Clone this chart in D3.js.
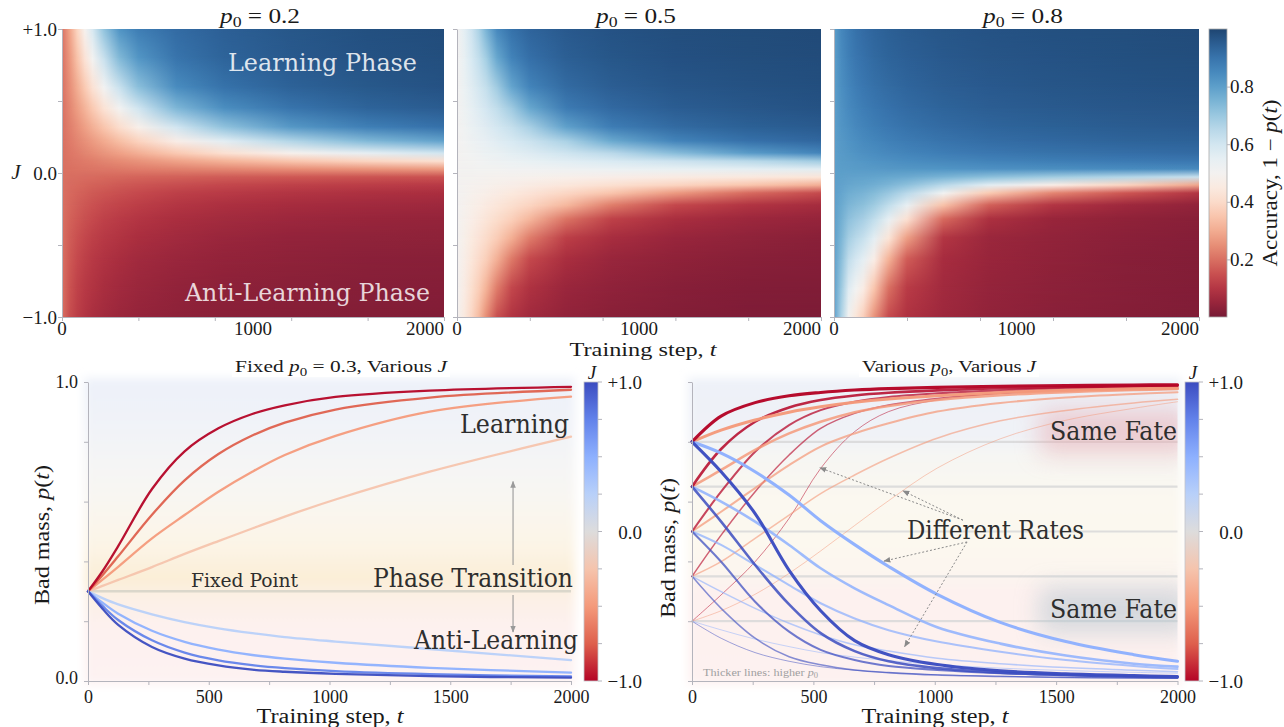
<!DOCTYPE html>
<html><head><meta charset="utf-8">
<script src="https://cdn.jsdelivr.net/npm/d3@7"></script>
<style>html,body{margin:0;padding:0;background:#fff;} svg{display:block;}</style>
</head><body>
<script>
// ====================== DATA ======================
// Heatmaps: accuracy value per (J row, t column)
const heatT = [0, 40, 80, 120, 160, 220, 300, 400, 600, 850, 1200, 1600, 2000];
const heatJ = [1, 0.8, 0.6, 0.45, 0.32, 0.22, 0.14, 0.08, 0.03, -0.03, -0.08, -0.14, -0.22, -0.32, -0.45, -0.6, -0.8, -1];
const heatP0 = ["0.2", "0.5", "0.8"];
const accP02 = [
 [.2,.286,.386,.491,.59,.714,.826,.88,.92,.945,.963,.977,.985],
 [.2,.267,.344,.426,.508,.62,.738,.82,.9,.935,.958,.972,.98],
 [.2,.249,.304,.362,.422,.51,.618,.724,.845,.905,.94,.96,.972],
 [.2,.236,.275,.316,.359,.424,.508,.603,.745,.84,.9,.935,.952],
 [.2,.225,.252,.279,.308,.351,.409,.479,.602,.716,.814,.874,.907],
 [.2,.217,.235,.253,.271,.299,.336,.382,.468,.561,.662,.74,.791],
 [.2,.211,.222,.233,.244,.26,.282,.308,.359,.418,.488,.553,.604],
 [.2,.206,.212,.218,.224,.233,.244,.258,.285,.315,.352,.387,.418],
 [.2,.202,.205,.207,.209,.212,.216,.221,.229,.239,.251,.262,.272],
 [.2,.198,.196,.194,.192,.189,.186,.182,.176,.169,.162,.156,.152],
 [.2,.194,.189,.184,.179,.173,.166,.158,.146,.134,.123,.114,.108],
 [.2,.19,.181,.173,.166,.157,.147,.137,.121,.108,.096,.087,.08],
 [.2,.185,.172,.161,.152,.14,.128,.116,.099,.085,.074,.065,.06],
 [.2,.178,.162,.148,.137,.123,.11,.097,.08,.068,.057,.05,.045],
 [.2,.171,.15,.134,.121,.107,.093,.08,.065,.053,.044,.038,.035],
 [.2,.163,.138,.121,.107,.092,.079,.067,.053,.043,.035,.03,.027],
 [.2,.154,.125,.106,.093,.078,.065,.055,.042,.034,.028,.024,.021],
 [.2,.145,.115,.095,.082,.068,.056,.046,.035,.028,.023,.019,.017]
];
const accP05 = [
 [.5,.556,.609,.673,.752,.852,.906,.934,.958,.972,.981,.986,.989],
 [.5,.544,.588,.632,.686,.781,.866,.911,.946,.963,.975,.982,.985],
 [.5,.533,.566,.598,.629,.692,.784,.864,.921,.948,.964,.973,.979],
 [.5,.525,.55,.574,.597,.634,.694,.781,.884,.924,.949,.962,.972],
 [.5,.518,.535,.553,.57,.595,.627,.679,.794,.878,.921,.943,.954],
 [.5,.512,.524,.536,.548,.566,.588,.615,.675,.776,.864,.907,.928],
 [.5,.508,.516,.523,.531,.542,.557,.574,.608,.65,.729,.808,.861],
 [.5,.504,.509,.513,.517,.524,.532,.543,.562,.585,.615,.649,.692],
 [.5,.502,.503,.505,.507,.509,.512,.516,.523,.532,.544,.556,.567],
 [.5,.498,.497,.495,.493,.491,.488,.484,.477,.468,.456,.444,.433],
 [.5,.496,.491,.487,.483,.476,.468,.457,.438,.415,.385,.351,.308],
 [.5,.492,.484,.477,.469,.458,.443,.426,.392,.35,.271,.192,.139],
 [.5,.488,.476,.464,.452,.434,.412,.385,.325,.224,.136,.093,.072],
 [.5,.482,.465,.447,.43,.405,.373,.321,.206,.122,.079,.057,.046],
 [.5,.475,.45,.426,.403,.366,.306,.219,.116,.076,.051,.038,.028],
 [.5,.467,.434,.402,.371,.308,.216,.136,.079,.052,.036,.027,.021],
 [.5,.456,.412,.368,.314,.219,.134,.089,.054,.037,.025,.018,.015],
 [.5,.444,.391,.327,.248,.148,.094,.066,.042,.028,.019,.014,.011]
];
const accP08 = [
 [.8,.855,.885,.905,.918,.932,.944,.954,.965,.972,.977,.982,.987],
 [.8,.846,.875,.894,.907,.922,.935,.945,.958,.966,.972,.977,.982],
 [.8,.837,.862,.879,.893,.908,.921,.933,.947,.957,.965,.97,.974],
 [.8,.829,.85,.866,.879,.893,.907,.92,.935,.947,.956,.962,.966],
 [.8,.822,.838,.852,.863,.877,.89,.903,.92,.932,.943,.95,.955],
 [.8,.815,.828,.839,.848,.86,.872,.884,.901,.915,.926,.935,.94],
 [.8,.81,.819,.827,.834,.843,.853,.863,.879,.892,.904,.913,.92],
 [.8,.806,.811,.816,.821,.827,.834,.842,.854,.866,.877,.886,.892],
 [.8,.802,.804,.806,.808,.811,.814,.818,.824,.831,.838,.844,.848],
 [.8,.797,.793,.792,.79,.787,.781,.772,.75,.722,.691,.661,.621],
 [.8,.791,.782,.777,.773,.765,.747,.721,.651,.56,.465,.384,.29],
 [.8,.784,.767,.759,.752,.735,.702,.65,.516,.361,.237,.159,.096],
 [.8,.775,.747,.734,.722,.693,.636,.548,.345,.177,.095,.06,.04],
 [.8,.762,.72,.699,.681,.636,.546,.419,.191,.085,.05,.036,.027],
 [.8,.746,.683,.651,.624,.557,.431,.277,.095,.055,.04,.03,.022],
 [.8,.726,.637,.593,.555,.465,.312,.17,.075,.05,.036,.026,.019],
 [.8,.698,.573,.512,.461,.351,.2,.11,.065,.045,.032,.023,.017],
 [.8,.668,.507,.433,.374,.257,.14,.09,.06,.042,.03,.021,.015]
];
const heatXTicks = [0, 400, 800, 1200, 1600, 2000];
const heatXLabels = [0, 1000, 2000];
const heatYTicks = [-1, -0.5, 0, 0.5, 1];
const accTicks = [0.2, 0.4, 0.6, 0.8];

// Bottom-left: fixed p0 = 0.3, various J
const fixedP0 = 0.3;
const fixedT = [0, 60, 125, 265, 400, 540, 680, 815, 1025, 1415, 2000];
const fixedJ = [-0.25, -0.5, -0.75, -1, 0.25, 0.5, 0.75, 1];
const fixedP = [
 [.3,.318,.338,.381,.425,.468,.51,.55,.607,.70,.817],
 [.3,.339,.382,.477,.555,.633,.70,.756,.82,.901,.951],
 [.3,.354,.417,.556,.671,.759,.821,.864,.908,.948,.974],
 [.3,.367,.451,.642,.768,.845,.893,.922,.95,.971,.984],
 [.3,.277,.256,.223,.197,.176,.16,.147,.132,.107,.07],
 [.3,.262,.225,.168,.131,.105,.087,.075,.061,.044,.028],
 [.3,.251,.204,.136,.095,.069,.053,.043,.033,.023,.015],
 [.3,.242,.188,.114,.075,.052,.038,.031,.024,.016,.011]
];

// Bottom-right: various p0, various J
const variousT = [0, 120, 260, 400, 530, 670, 810, 1010, 1270, 1540, 1820, 2000];
const variousP0 = [0.2, 0.35, 0.5, 0.65, 0.8];
const variousJ = [-1, -0.5, 0.5, 1];
const variousP02 = [
 [.2,.288,.399,.544,.711,.834,.901,.94,.962,.974,.981,.984],
 [.2,.235,.29,.36,.435,.52,.603,.712,.81,.872,.912,.934],
 [.2,.171,.14,.115,.095,.08,.068,.055,.043,.035,.029,.026],
 [.2,.143,.095,.066,.048,.036,.028,.021,.016,.012,.01,.009]
];
const variousP035 = [
 [.35,.488,.633,.756,.845,.895,.923,.945,.962,.972,.979,.982],
 [.35,.399,.477,.555,.627,.689,.745,.812,.87,.905,.93,.942],
 [.35,.299,.243,.193,.154,.121,.10,.076,.058,.045,.036,.031],
 [.35,.243,.143,.081,.054,.037,.028,.02,.015,.012,.01,.009]
];
const variousP05 = [
 [.5,.633,.767,.856,.906,.934,.95,.962,.972,.979,.984,.986],
 [.5,.566,.645,.722,.784,.828,.862,.901,.93,.948,.96,.966],
 [.5,.455,.388,.321,.26,.209,.17,.132,.098,.07,.05,.04],
 [.5,.399,.265,.165,.104,.07,.05,.037,.026,.019,.014,.012]
];
const variousP065 = [
 [.65,.776,.867,.915,.94,.955,.964,.972,.979,.983,.986,.988],
 [.65,.706,.773,.828,.867,.899,.92,.94,.956,.966,.973,.977],
 [.65,.60,.533,.455,.377,.31,.254,.18,.125,.085,.058,.048],
 [.65,.533,.388,.256,.16,.10,.066,.043,.028,.02,.015,.013]
];
const variousP08 = [
 [.8,.886,.931,.954,.965,.973,.978,.982,.986,.988,.99,.991],
 [.8,.839,.873,.899,.917,.932,.943,.954,.965,.972,.977,.979],
 [.8,.762,.70,.622,.536,.456,.383,.29,.196,.132,.088,.066],
 [.8,.70,.56,.37,.235,.135,.088,.055,.034,.024,.018,.015]
];
const variousSeries = [variousP02, variousP035, variousP05, variousP065, variousP08];
const lineXTicks = [0, 250, 500, 750, 1000, 1250, 1500, 1750, 2000];
const lineYTicks = [0, 0.2, 0.4, 0.6, 0.8, 1];
const jBarTicks = [-1, -0.75, -0.5, -0.25, 0, 0.25, 0.5, 0.75, 1];
const jBarLabels = [1, 0, -1];

// ====================== DRAWING ======================
const W = 1284, H = 727;
const svg = d3.select('body').append('svg').attr('width', W).attr('height', H);
const defs = svg.append('defs');
const SERIF = "'Liberation Serif','DejaVu Serif',serif";
const SLAB = "'DejaVu Serif Condensed','DejaVu Serif',serif";
const INK = '#1a1a1a';
const AXC = '#b4b4bc';

const heatColor = v => d3.interpolateRgb('#ffffff', d3.interpolateRdBu(Math.max(0, Math.min(1, v))))(0.9);
const cwStops = ['#3b4cc0','#6282ea','#8db0fe','#b8d0f9','#dddcdc','#f5c4ad','#f49a7b','#de604d','#b40426'];
const coolwarm = d3.scaleLinear().domain(cwStops.map((c, i) => i / (cwStops.length - 1))).range(cwStops).interpolate(d3.interpolateRgb);
const jColor = J => coolwarm((1 - J) / 2);
const fmtSigned = d => d > 0 ? '+' + d.toFixed(1) : d < 0 ? '\u2212' + Math.abs(d).toFixed(1) : '0.0';

// masks / filters / markers
const fg = defs.append('linearGradient').attr('id', 'fadeGrad').attr('x1', 0).attr('y1', 0).attr('x2', 0).attr('y2', 1);
fg.append('stop').attr('offset', 0).attr('stop-color', '#fff').attr('stop-opacity', 1);
fg.append('stop').attr('offset', 1).attr('stop-color', '#fff').attr('stop-opacity', 0);
defs.append('mask').attr('id', 'fadeMask').attr('maskContentUnits', 'objectBoundingBox')
  .append('rect').attr('width', 1).attr('height', 1).attr('fill', 'url(#fadeGrad)');
defs.append('filter').attr('id', 'soft').attr('x', '-10%').attr('y', '-10%').attr('width', '120%').attr('height', '120%')
  .append('feGaussianBlur').attr('stdDeviation', 5);
defs.append('filter').attr('id', 'glow').attr('x', '-60%').attr('y', '-100%').attr('width', '220%').attr('height', '300%')
  .append('feGaussianBlur').attr('stdDeviation', 12);
function marker(id, color, size) {
  defs.append('marker').attr('id', id).attr('viewBox', '0 0 10 10').attr('refX', 9).attr('refY', 5)
    .attr('markerWidth', size).attr('markerHeight', size).attr('markerUnits', 'userSpaceOnUse').attr('orient', 'auto')
    .append('path').attr('d', 'M0,1 L10,5 L0,9 z').attr('fill', color);
}
marker('arrGrey', '#9a9a9a', 7);
marker('arrDot', '#8a8a8a', 7);

function rich(g, parts, attrs, fs) {
  const t = g.append('text');
  Object.entries(attrs).forEach(([k, v]) => t.attr(k, v));
  let sub = false;
  parts.forEach(([s, st]) => {
    const ts = t.append('tspan').text(s);
    if (st && st.includes('i')) ts.attr('font-style', 'italic');
    if (st && st.includes('s')) { ts.attr('font-size', fs * 0.7).attr('dy', fs * 0.22); sub = true; }
    else if (sub) { ts.attr('dy', -fs * 0.22); sub = false; }
  });
  return t;
}
function styleAxis(sel, fs) {
  sel.attr('font-family', SERIF).attr('font-size', fs);
  sel.selectAll('.domain').attr('stroke', AXC).attr('stroke-width', 1);
  sel.selectAll('.tick line').attr('stroke', AXC).attr('stroke-width', 1);
  sel.selectAll('.tick text').attr('fill', INK);
}

// ---------- Heatmaps ----------
const yH = d3.scaleLinear().domain([-1, 1]).range([317, 29]);
function heatPanel(id, rows, x0, x1, p0, titleX, showY) {
  const x = d3.scaleLinear().domain([0, 2000]).range([x0, x1]);
  const g = svg.append('g');
  rows.forEach((row, i) => {
    const gr = defs.append('linearGradient').attr('id', `${id}_${i}`).attr('gradientUnits', 'userSpaceOnUse')
      .attr('x1', x(0)).attr('x2', x(2000)).attr('y1', 0).attr('y2', 0);
    row.forEach((v, k) => gr.append('stop').attr('offset', (x(heatT[k]) - x(0)) / (x(2000) - x(0))).attr('stop-color', heatColor(v)));
  });
  const bands = g.append('g').attr('shape-rendering', 'crispEdges');
  for (let i = 0; i < heatJ.length - 1; i++) {
    const ya = Math.round(yH(heatJ[i])), yb = Math.round(yH(heatJ[i + 1]));
    bands.append('rect').attr('x', x(0)).attr('y', ya).attr('width', x(2000) - x(0)).attr('height', yb - ya)
      .attr('fill', `url(#${id}_${i + 1})`);
    bands.append('rect').attr('x', x(0)).attr('y', ya).attr('width', x(2000) - x(0)).attr('height', yb - ya)
      .attr('fill', `url(#${id}_${i})`).attr('mask', 'url(#fadeMask)');
  }
  g.append('g').attr('transform', `translate(0,${yH(-1)})`)
    .call(d3.axisBottom(x).tickValues(heatXTicks).tickSize(4).tickSizeOuter(0).tickFormat(() => ''))
    .call(styleAxis, 19);
  g.append('g').attr('transform', `translate(${x(0)},0)`)
    .call(d3.axisLeft(yH).tickValues(heatYTicks).tickSize(4).tickSizeOuter(0).tickPadding(1)
      .tickFormat(d => showY && Math.abs(d) !== 0.5 ? fmtSigned(d) : ''))
    .call(styleAxis, 19);
  heatXLabels.forEach(v => g.append('text').attr('x', x(v)).attr('y', 335)
    .attr('text-anchor', v === 2000 ? 'end' : 'middle').attr('font-family', SERIF).attr('font-size', 19).attr('fill', INK).text(v));
  rich(g, [['p', 'i'], ['0', 's'], [' = ' + p0, '']], { x: titleX, y: 23, 'text-anchor': 'middle', 'font-family': SERIF, 'font-size': 20, fill: INK, textLength: 80, lengthAdjust: 'spacingAndGlyphs' }, 20);
  return x;
}
heatPanel('h1', accP02, 62, 444, heatP0[0], 260, true);
heatPanel('h2', accP05, 457, 821, heatP0[1], 636, false);
heatPanel('h3', accP08, 834, 1199, heatP0[2], 1023, false);

svg.append('text').attr('x', 16).attr('y', 179).attr('text-anchor', 'middle').attr('font-family', SERIF)
  .attr('font-style', 'italic').attr('font-size', 21).attr('fill', INK).text('J');
rich(svg, [['Training step, ', ''], ['t', 'i']], { x: 643, y: 356, 'text-anchor': 'middle', 'font-family': SERIF, 'font-size': 18, fill: INK, textLength: 147, lengthAdjust: 'spacingAndGlyphs' }, 18);
svg.append('text').attr('x', 417).attr('y', 71).attr('text-anchor', 'end').attr('font-family', SLAB).attr('font-size', 24)
  .attr('fill', '#fff').attr('fill-opacity', 0.85).attr('textLength', 189).attr('lengthAdjust', 'spacingAndGlyphs').text('Learning Phase');
svg.append('text').attr('x', 430).attr('y', 301).attr('text-anchor', 'end').attr('font-family', SLAB).attr('font-size', 24)
  .attr('fill', '#fff').attr('fill-opacity', 0.82).attr('textLength', 245).attr('lengthAdjust', 'spacingAndGlyphs').text('Anti-Learning Phase');

// accuracy colorbar
const yAcc = d3.scaleLinear().domain([0, 1]).range([317, 29]);
const ag = defs.append('linearGradient').attr('id', 'accBar').attr('x1', 0).attr('y1', 1).attr('x2', 0).attr('y2', 0);
d3.range(0, 1.0001, 0.05).forEach(v => ag.append('stop').attr('offset', v).attr('stop-color', heatColor(v)));
svg.append('rect').attr('x', 1209).attr('y', 29).attr('width', 18).attr('height', 288).attr('fill', 'url(#accBar)')
  .attr('stroke', '#aaa').attr('stroke-width', 0.8);
svg.append('g').attr('transform', 'translate(1227,0)')
  .call(d3.axisRight(yAcc).tickValues(accTicks).tickSize(3).tickSizeOuter(0).tickPadding(0).tickFormat(d3.format('.1f')))
  .call(styleAxis, 19).call(s => s.select('.domain').remove());
rich(svg, [['Accuracy, 1 \u2212 ', ''], ['p', 'i'], ['(', ''], ['t', 'i'], [')', '']],
  { transform: 'translate(1277,183) rotate(-90)', 'text-anchor': 'middle', 'font-family': SERIF, 'font-size': 20, fill: INK, textLength: 167, lengthAdjust: 'spacingAndGlyphs' }, 20);

// ---------- Bottom panels ----------
const yB = d3.scaleLinear().domain([0, 1]).range([681, 382]);
const yJ = d3.scaleLinear().domain([-1, 1]).range([681, 382]);
function panelBg(id, x, stops) {
  const gr = defs.append('linearGradient').attr('id', id).attr('gradientUnits', 'userSpaceOnUse')
    .attr('x1', 0).attr('x2', 0).attr('y1', yB(1)).attr('y2', yB(0));
  stops.forEach(([p, c]) => gr.append('stop').attr('offset', 1 - p).attr('stop-color', c));
  svg.append('rect').attr('x', x(0) - 4).attr('y', yB(1) - 4).attr('width', x(2000) - x(0) + 8).attr('height', yB(0) - yB(1) + 8)
    .attr('fill', `url(#${id})`).attr('filter', 'url(#soft)');
}
function panelAxes(x, showY) {
  svg.append('g').attr('transform', `translate(0,${yB(0)})`)
    .call(d3.axisBottom(x).tickValues(lineXTicks).tickFormat(d => d % 500 === 0 ? d : '').tickSize(4).tickSizeOuter(0).tickPadding(5))
    .call(styleAxis, 18);
  svg.append('g').attr('transform', `translate(${x(0)},0)`)
    .call(d3.axisLeft(yB).tickValues(lineYTicks).tickFormat(d => showY && (d === 0 || d === 1) ? d.toFixed(1) : '').tickSize(4).tickSizeOuter(0).tickPadding(6))
    .call(styleAxis, 18)
    .call(s => s.selectAll('.tick text').filter(d => d === 0).attr('dy', '0.12em'));
}
function jBar(id, x0) {
  const gr = defs.append('linearGradient').attr('id', id).attr('x1', 0).attr('y1', 0).attr('x2', 0).attr('y2', 1);
  d3.range(0, 1.0001, 0.0625).forEach(o => gr.append('stop').attr('offset', o).attr('stop-color', jColor(1 - 2 * o)));
  svg.append('rect').attr('x', x0).attr('y', yJ(1)).attr('width', 14).attr('height', yJ(-1) - yJ(1))
    .attr('fill', `url(#${id})`).attr('stroke', '#c4c4c8').attr('stroke-width', 0.8);
  svg.append('g').selectAll('line').data(jBarTicks).join('line')
    .attr('x1', x0 + 14).attr('x2', x0 + 18).attr('y1', d => yJ(d)).attr('y2', d => yJ(d)).attr('stroke', AXC);
  svg.append('g').selectAll('text').data(jBarLabels).join('text')
    .attr('x', x0 + 58).attr('y', d => yJ(d) + 7).attr('text-anchor', 'end').attr('font-family', SERIF)
    .attr('font-size', 19).attr('fill', INK).text(fmtSigned);
  svg.append('text').attr('x', x0 + 8).attr('y', 379).attr('text-anchor', 'middle').attr('font-family', SERIF)
    .attr('font-style', 'italic').attr('font-size', 19).attr('fill', INK).text('J');
}
function titleBox(cx, w, parts) {
  svg.append('rect').attr('x', cx - w / 2 - 3).attr('y', 357).attr('width', w + 6).attr('height', 20).attr('fill', '#fff');
  rich(svg, parts, { x: cx, y: 372, 'text-anchor': 'middle', 'font-family': SERIF, 'font-size': 17, fill: INK, textLength: w, lengthAdjust: 'spacingAndGlyphs' }, 17);
}
function axisLabels(cx, ylx, yly) {
  rich(svg, [['Training step, ', ''], ['t', 'i']], { x: cx, y: 723, 'text-anchor': 'middle', 'font-family': SERIF, 'font-size': 20, fill: INK, textLength: 147, lengthAdjust: 'spacingAndGlyphs' }, 20);
  rich(svg, [['Bad mass, ', ''], ['p', 'i'], ['(', ''], ['t', 'i'], [')', '']],
    { transform: `translate(${ylx},${yly}) rotate(-90)`, 'text-anchor': 'middle', 'font-family': SERIF, 'font-size': 20, fill: INK, textLength: 140, lengthAdjust: 'spacingAndGlyphs' }, 20);
}
function slabText(x, y, txt, len, fs, anchor) {
  return svg.append('text').attr('x', x).attr('y', y).attr('text-anchor', anchor || 'start').attr('font-family', SLAB)
    .attr('font-size', fs).attr('fill', '#2e2e2e').attr('textLength', len).attr('lengthAdjust', 'spacingAndGlyphs').text(txt);
}
const smooth = d3.curveCatmullRom.alpha(0.5);

// ---- bottom-left ----
const xL = d3.scaleLinear().domain([0, 2000]).range([88, 571]);
panelBg('bgL', xL, [[1, '#edf1f9'], [0.85, '#f1f3f8'], [0.62, '#f8f6f2'], [0.45, '#fcf4e6'], [0.34, '#fbeed6'], [0.29, '#fcf0e4'], [0.18, '#fdf1ef'], [0, '#fdf2f2']]);
titleBox(341, 212, [['Fixed ', ''], ['p', 'i'], ['0', 's'], [' = 0.3, Various ', ''], ['J', 'i']]);
svg.append('line').attr('x1', xL(0)).attr('x2', xL(2000)).attr('y1', yB(fixedP0)).attr('y2', yB(fixedP0))
  .attr('stroke', '#d6d3c8').attr('stroke-width', 2.5).attr('opacity', 0.85);
const lineL = d3.line().x((d, k) => xL(fixedT[k])).y(d => yB(d)).curve(smooth);
fixedP.forEach((s, i) => svg.append('path').attr('d', lineL(s)).attr('fill', 'none')
  .attr('stroke', jColor(fixedJ[i])).attr('stroke-width', 2.3).attr('stroke-linecap', 'round').attr('opacity', 0.95));
slabText(191, 587, 'Fixed Point', 107, 19);
slabText(569, 433, 'Learning', 109, 26, 'end');
slabText(373, 587, 'Phase Transition', 200, 26);
slabText(578, 649, 'Anti-Learning', 164, 26, 'end');
svg.append('line').attr('x1', xL(1760)).attr('x2', xL(1760)).attr('y1', yB(0.388)).attr('y2', yB(0.667))
  .attr('stroke', '#9a9a9a').attr('stroke-width', 1.1).attr('marker-end', 'url(#arrGrey)');
svg.append('line').attr('x1', xL(1760)).attr('x2', xL(1760)).attr('y1', yB(0.288)).attr('y2', yB(0.164))
  .attr('stroke', '#9a9a9a').attr('stroke-width', 1.1).attr('marker-end', 'url(#arrGrey)');
panelAxes(xL, true);
axisLabels(330, 49, 535);
jBar('jbarL', 584);

// ---- bottom-right ----
const xR = d3.scaleLinear().domain([0, 2000]).range([692, 1177.5]);
panelBg('bgR', xR, [[1, '#edf1f8'], [0.82, '#f0f2f7'], [0.75, '#f6f6f3'], [0.6, '#fbf8f0'], [0.45, '#fcf8ef'], [0.36, '#fcf5ef'], [0.3, '#fdf1ef'], [0, '#fdf1f0']]);
titleBox(949, 174, [['Various ', ''], ['p', 'i'], ['0', 's'], [', Various ', ''], ['J', 'i']]);
svg.append('g').selectAll('line').data(variousP0).join('line')
  .attr('x1', xR(0)).attr('x2', xR(2000)).attr('y1', d => yB(d)).attr('y2', d => yB(d))
  .attr('stroke', '#d9d9d9').attr('stroke-width', 2.2).attr('opacity', 0.85);
defs.append('clipPath').attr('id', 'clipR').append('rect').attr('x', xR(0)).attr('y', yB(1)).attr('width', xR(2000) - xR(0)).attr('height', yB(0) - yB(1));
const glowG = svg.append('g').attr('clip-path', 'url(#clipR)');
glowG.append('rect').attr('x', 1040).attr('y', 410).attr('width', 150).attr('height', 44).attr('fill', '#e7a6ab').attr('opacity', 0.5).attr('filter', 'url(#glow)');
glowG.append('rect').attr('x', 1040).attr('y', 588).attr('width', 150).attr('height', 44).attr('fill', '#b3c4cf').attr('opacity', 0.55).attr('filter', 'url(#glow)');
const lineR = d3.line().x((d, k) => xR(variousT[k])).y(d => yB(d)).curve(smooth);
const drawOrder = [1, 2, 0, 3];
variousSeries.forEach((set, pi) => {
  const f = (variousP0[pi] - 0.2) / 0.6;
  drawOrder.forEach(j => svg.append('path').attr('d', lineR(set[j])).attr('fill', 'none')
    .attr('stroke', jColor(variousJ[j])).attr('stroke-width', 1.0 + 2.1 * f).attr('stroke-linecap', 'round')
    .attr('opacity', 0.5 + 0.47 * f));
});
const arrows = [[1116, 0.538, 527, 0.713], [1116, 0.538, 869, 0.636], [1133, 0.465, 791, 0.401], [1133, 0.465, 876, 0.115]];
arrows.forEach(([t0, p0, t1, p1]) => svg.append('line').attr('x1', xR(t0)).attr('y1', yB(p0)).attr('x2', xR(t1)).attr('y2', yB(p1))
  .attr('stroke', '#8a8a8a').attr('stroke-width', 1).attr('stroke-dasharray', '2,2').attr('marker-end', 'url(#arrDot)'));
slabText(1177, 440, 'Same Fate', 127, 26, 'end');
slabText(1177, 618, 'Same Fate', 127, 26, 'end');
slabText(907, 539, 'Different Rates', 177, 26);
rich(svg, [['Thicker lines: higher ', ''], ['p', 'i'], ['0', 's']], { x: 703, y: 676, 'font-family': SERIF, 'font-size': 11, fill: '#a0a0a0', textLength: 115, lengthAdjust: 'spacingAndGlyphs' }, 11);
panelAxes(xR, false);
axisLabels(935, 675, 548);
jBar('jbarR', 1185);
</script>
</body></html>
